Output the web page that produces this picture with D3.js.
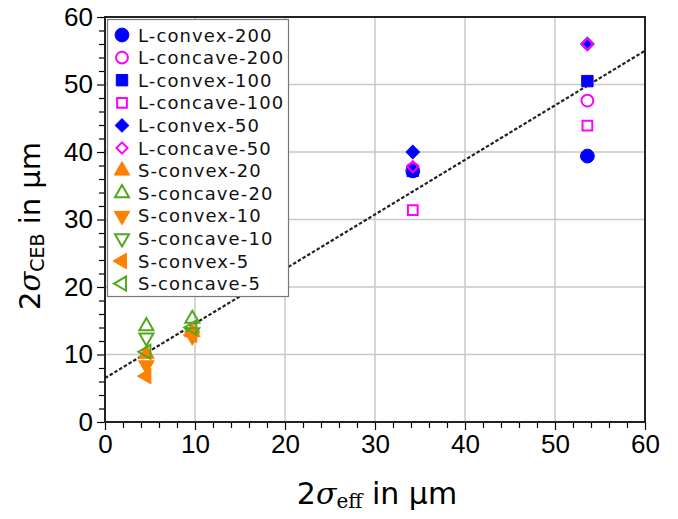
<!DOCTYPE html>
<html>
<head>
<meta charset="utf-8">
<script src="https://cdn.jsdelivr.net/npm/d3@7"></script>
<style>
  body { margin: 0; background: #fff; }
  svg { font-family: "DejaVu Sans", sans-serif; }
  .axis path { display: none; }
  .axis line { stroke: #000; stroke-width: 1.2; }
  .axis text { font-size: 26px; fill: #000; }
</style>
</head>
<body>
<div id="chart"></div>
<script>
// series names, in legend order
const seriesNames = ['L-convex-200', 'L-concave-200', 'L-convex-100', 'L-concave-100',
  'L-convex-50', 'L-concave-50', 'S-convex-20', 'S-concave-20',
  'S-convex-10', 'S-concave-10', 'S-convex-5', 'S-concave-5'];

// x = 2σ_eff, y = 2σ_CEB (µm), one pair of arrays per series
const lConvex200X = [34.2, 53.6];  const lConvex200Y = [37.2, 39.4];
const lConcave200X = [34.2, 53.6]; const lConcave200Y = [37.5, 47.6];
const lConvex100X = [34.2, 53.6];  const lConvex100Y = [37.2, 50.5];
const lConcave100X = [34.2, 53.6]; const lConcave100Y = [31.4, 43.9];
const lConvex50X = [34.2, 53.6];   const lConvex50Y = [40.0, 56.0];
const lConcave50X = [34.2, 53.6];  const lConcave50Y = [37.8, 56.0];
const sConvex20X = [4.6, 9.7];     const sConvex20Y = [10.1, 13.3];
const sConcave20X = [4.6, 9.7];    const sConcave20Y = [14.2, 15.3];
const sConvex10X = [4.6, 9.7];     const sConvex10Y = [8.4, 12.7];
const sConcave10X = [4.6, 9.7];    const sConcave10Y = [12.5, 13.3];
const sConvex5X = [4.6, 9.7];      const sConvex5Y = [6.8, 12.9];
const sConcave5X = [4.6, 9.7];     const sConcave5Y = [10.4, 14.0];

// dotted fit line end points
const fitX = [0, 60];
const fitY = [6.5, 55];

const xTicks = [0, 10, 20, 30, 40, 50, 60];
const yTicks = [0, 10, 20, 30, 40, 50, 60];

const seriesX = [lConvex200X, lConcave200X, lConvex100X, lConcave100X, lConvex50X, lConcave50X,
  sConvex20X, sConcave20X, sConvex10X, sConcave10X, sConvex5X, sConcave5X];
const seriesY = [lConvex200Y, lConcave200Y, lConvex100Y, lConcave100Y, lConvex50Y, lConcave50Y,
  sConvex20Y, sConcave20Y, sConvex10Y, sConcave10Y, sConvex5Y, sConcave5Y];

const blue = '#0000ff', magenta = '#ff00ff', orange = '#ff8000', green = '#52a81c';
// marker style for each series: shape, rotation, colour, filled
const styles = [
  {shape: d3.symbolCircle, size: 150, rot: 0, color: blue, fill: true},
  {shape: d3.symbolCircle, size: 110, rot: 0, color: magenta, fill: false},
  {shape: d3.symbolSquare, size: 130, rot: 0, color: blue, fill: true},
  {shape: d3.symbolSquare, size: 95, rot: 0, color: magenta, fill: false},
  {shape: d3.symbolSquare, size: 90, rot: 45, color: blue, fill: true},
  {shape: d3.symbolSquare, size: 62, rot: 45, color: magenta, fill: false},
  {shape: d3.symbolTriangle, size: 105, rot: 0, color: orange, fill: true},
  {shape: d3.symbolTriangle, size: 85, rot: 0, color: green, fill: false},
  {shape: d3.symbolTriangle, size: 105, rot: 180, color: orange, fill: true},
  {shape: d3.symbolTriangle, size: 85, rot: 180, color: green, fill: false},
  {shape: d3.symbolTriangle, size: 105, rot: -90, color: orange, fill: true},
  {shape: d3.symbolTriangle, size: 85, rot: -90, color: green, fill: false}
];

const width = 678, height = 519;
const plot = {left: 105, right: 645, top: 17, bottom: 422};

const x = d3.scaleLinear().domain([0, 60]).range([plot.left, plot.right]);
const y = d3.scaleLinear().domain([0, 60]).range([plot.bottom, plot.top]);

const svg = d3.select('#chart').append('svg')
  .attr('width', width)
  .attr('height', height);

// grid
svg.append('g').selectAll('line')
  .data(xTicks.slice(1, -1))
  .enter().append('line')
  .attr('x1', d => x(d)).attr('x2', d => x(d))
  .attr('y1', plot.top).attr('y2', plot.bottom)
  .attr('stroke', '#c8c8c8').attr('stroke-width', 1.5);
svg.append('g').selectAll('line')
  .data(yTicks.slice(1, -1))
  .enter().append('line')
  .attr('y1', d => y(d)).attr('y2', d => y(d))
  .attr('x1', plot.left).attr('x2', plot.right)
  .attr('stroke', '#c8c8c8').attr('stroke-width', 1.5);

// minor ticks every 2 units
const minor = d3.range(0, 61, 2).filter(d => d % 10 !== 0);
svg.append('g').attr('class', 'axis')
  .attr('transform', `translate(0, ${plot.bottom})`)
  .call(d3.axisBottom(x).tickValues(minor).tickSize(6).tickFormat(''));
svg.append('g').attr('class', 'axis')
  .attr('transform', `translate(${plot.left}, 0)`)
  .call(d3.axisLeft(y).tickValues(minor).tickSize(6).tickFormat(''));

// major ticks and labels
svg.append('g').attr('class', 'axis')
  .attr('transform', `translate(0, ${plot.bottom})`)
  .call(d3.axisBottom(x).tickValues(xTicks).tickSize(8).tickPadding(5));
svg.append('g').attr('class', 'axis')
  .attr('transform', `translate(${plot.left}, 0)`)
  .call(d3.axisLeft(y).tickValues(yTicks).tickSize(8).tickPadding(4));

// frame
svg.append('rect')
  .attr('x', plot.left).attr('y', plot.top)
  .attr('width', plot.right - plot.left).attr('height', plot.bottom - plot.top)
  .attr('fill', 'none').attr('stroke', '#222').attr('stroke-width', 2);

// fit line
svg.append('line')
  .attr('x1', x(fitX[0])).attr('y1', y(fitY[0]))
  .attr('x2', x(fitX[1])).attr('y2', y(fitY[1]))
  .attr('stroke', '#222').attr('stroke-width', 2.2)
  .attr('stroke-dasharray', '3.5,2');

function marker(sel, s) {
  sel.attr('d', d3.symbol().type(s.shape).size(s.size))
    .attr('fill', s.fill ? s.color : 'none')
    .attr('stroke', s.color)
    .attr('stroke-width', s.fill ? 1 : 2);
}

// data points
seriesNames.forEach((name, i) => {
  const pts = seriesX[i].map((v, j) => [v, seriesY[i][j]]);
  svg.append('g').selectAll('path')
    .data(pts)
    .enter().append('path')
    .call(marker, styles[i])
    .attr('transform', d => `translate(${x(d[0])},${y(d[1])}) rotate(${styles[i].rot})`);
});

// legend
const legend = svg.append('g');
legend.append('rect')
  .attr('x', 107.5).attr('y', 19.5)
  .attr('width', 181).attr('height', 277)
  .attr('fill', '#fff').attr('stroke', '#777').attr('stroke-width', 1.2);
const rows = legend.selectAll('g.row')
  .data(seriesNames)
  .enter().append('g')
  .attr('class', 'row')
  .attr('transform', (d, i) => `translate(122, ${35 + i * 22.6})`);
rows.append('path')
  .each(function (d, i) {
    d3.select(this).call(marker, styles[i])
      .attr('transform', `rotate(${styles[i].rot})`);
  });
rows.append('text')
  .attr('x', 16).attr('y', 6.5)
  .attr('font-size', 18)
  .attr('letter-spacing', 1.1)
  .attr('fill', '#111')
  .text(d => d);

// axis titles
const xTitle = svg.append('text')
  .attr('x', 377).attr('y', 504)
  .attr('text-anchor', 'middle')
  .attr('font-size', 30);
xTitle.append('tspan').text('2');
xTitle.append('tspan').attr('font-family', 'DejaVu Serif').attr('font-style', 'italic').text('σ');
xTitle.append('tspan').attr('font-family', 'DejaVu Serif').attr('font-size', 20).attr('dy', 4).text('eff');
xTitle.append('tspan').attr('dy', -4).text(' in µm');

const yTitle = svg.append('text')
  .attr('transform', 'translate(40, 226) rotate(-90)')
  .attr('text-anchor', 'middle')
  .attr('font-size', 29);
yTitle.append('tspan').text('2');
yTitle.append('tspan').attr('font-family', 'DejaVu Serif').attr('font-style', 'italic').text('σ');
yTitle.append('tspan').attr('font-size', 19).attr('dy', 4).text('CEB');
yTitle.append('tspan').attr('dy', -4).text(' in µm');
</script>
</body>
</html>
